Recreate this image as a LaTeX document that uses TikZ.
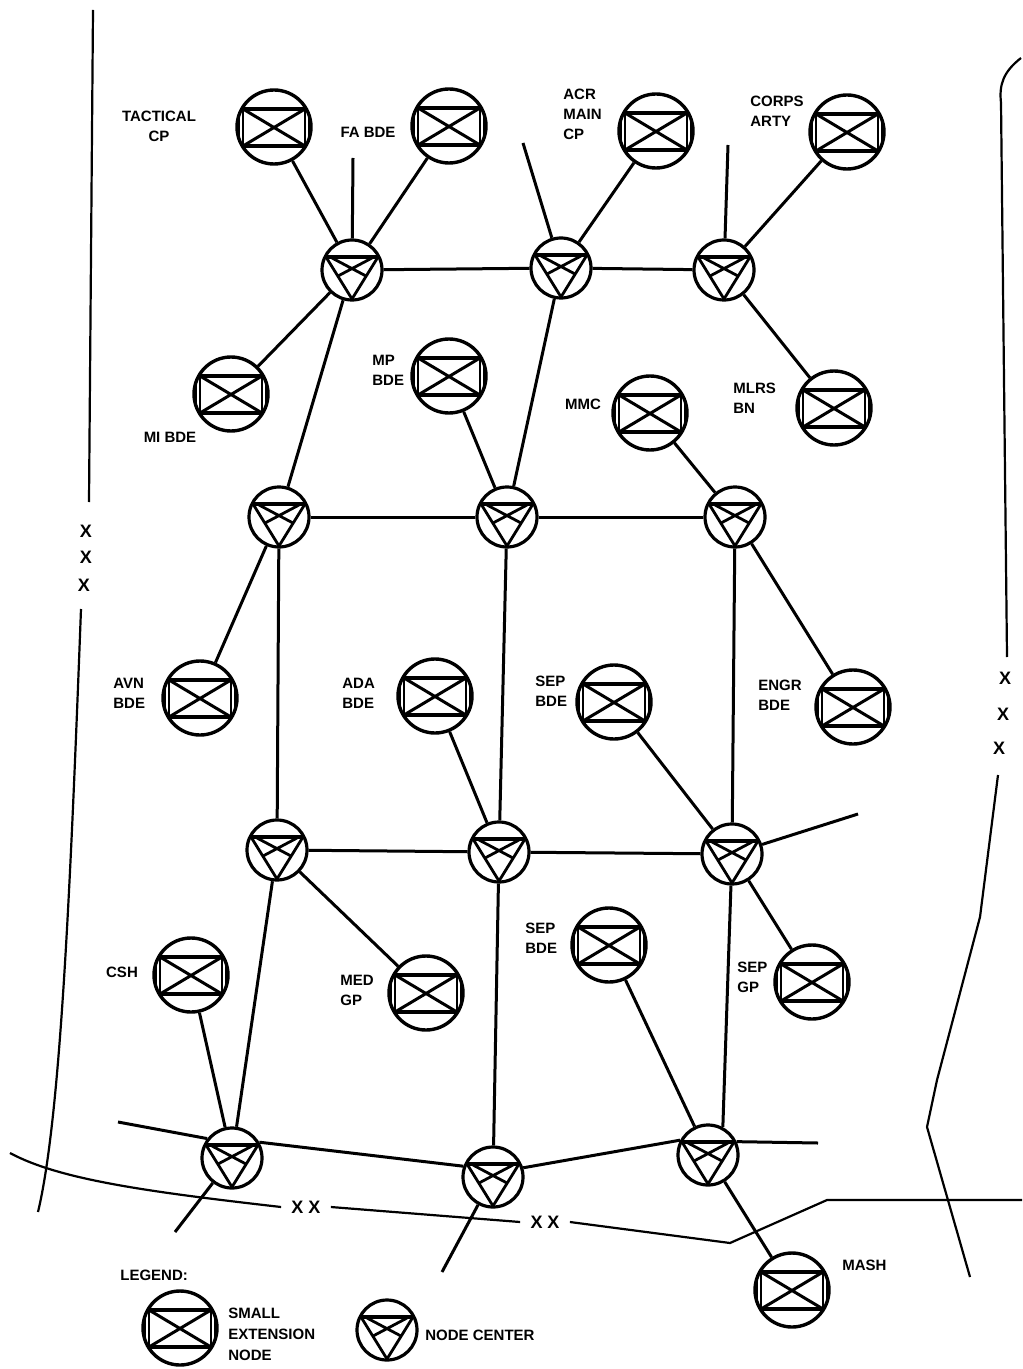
\documentclass[tikz,border=0pt]{standalone}
\usepackage{fontspec}
\newfontfamily\labfont{Liberation Sans}
\newcommand\lbl{\labfont\bfseries\fontsize{7.5}{10}\selectfont}
\newcommand\xmk{\labfont\bfseries\fontsize{9}{10}\selectfont}
\usetikzlibrary{calc}
\begin{document}
\begin{tikzpicture}[x=0.5pt,y=-0.5pt,
  sen/.style={circle,draw,line width=1.7pt,minimum size=37pt,inner sep=0pt,
    path picture={\begin{scope}[shift={(path picture bounding box.center)}]
      \draw[line width=1.7pt] (-34,-18) -- (34,-18) (-34,19) -- (34,19);
      \draw[line width=1.1pt] (-31,-18) -- (-31,19) (31,-18) -- (31,19);
      \draw[line width=1.5pt] (-31,-18) -- (31,19) (-31,19) -- (31,-18);
      \draw[line width=0.8pt] (-35,-9) -- (-35,9) (35,-9) -- (35,9);
    \end{scope}}},
  nc/.style={circle,draw,line width=1.6pt,minimum size=30pt,inner sep=0pt,
    path picture={\begin{scope}[shift={(path picture bounding box.center)}]
      \draw[line width=1.4pt,line join=round] (-26,-13) -- (26,-13) -- (0,29) -- cycle;
      \draw[line width=1.7pt] (-28,-13) -- (28,-13);
      \draw[line width=1.4pt] (-20,-12) -- (14,6) (20,-12) -- (-14,6);
    \end{scope}}},
  conn/.style={line width=1.5pt},
  bnd/.style={line width=1.1pt},
  lab/.style={font=\lbl,inner sep=0pt,align=left},
  labc/.style={font=\lbl,inner sep=0pt,align=center},
  xm/.style={font=\xmk,inner sep=0pt},
  xx/.style={font=\xmk,inner ysep=0pt,inner xsep=5pt}
]
\fill[white] (0,0) rectangle (1022,1369);
\useasboundingbox (0,0) rectangle (1022,1369);

% small extension nodes
\node[sen] (sTac) at (274,127) {};
\node[sen] (sFa) at (449,126) {};
\node[sen] (sAcr) at (656,131) {};
\node[sen] (sCorps) at (847,132) {};
\node[sen] (sMi) at (231,394) {};
\node[sen] (sMp) at (449,376) {};
\node[sen] (sMmc) at (650,413) {};
\node[sen] (sMlrs) at (834,408) {};
\node[sen] (sAvn) at (200,698) {};
\node[sen] (sAda) at (435,696) {};
\node[sen] (sSepA) at (614,702) {};
\node[sen] (sEngr) at (853,707) {};
\node[sen] (sCsh) at (191,975) {};
\node[sen] (sMed) at (426,993) {};
\node[sen] (sSepB) at (609,945) {};
\node[sen] (sSepGp) at (812,982) {};
\node[sen] (sMash) at (792,1290) {};
\node[sen] (lSen) at (180,1328) {};

% node centers
\node[nc] (n1) at (352,270) {};
\node[nc] (n2) at (561,268) {};
\node[nc] (n3) at (724,270) {};
\node[nc] (n4) at (279,517) {};
\node[nc] (n5) at (507,517) {};
\node[nc] (n6) at (735,517) {};
\node[nc] (n7) at (277,850) {};
\node[nc] (n8) at (499,852) {};
\node[nc] (n9) at (732,854) {};
\node[nc] (n10) at (232,1158) {};
\node[nc] (n11) at (493,1177) {};
\node[nc] (n12) at (708,1155) {};
\node[nc] (lNc) at (387,1330) {};

% labels
\node[labc] (tTac) at (159,126) {TACTICAL\\CP};
\node[labc] (tFa) at (368,132) {FA BDE};
\node[lab,anchor=west] (tAcr) at (563,114) {ACR\\MAIN\\CP};
\node[lab,anchor=west] (tCorps) at (750,111) {CORPS\\ARTY};
\node[labc] (tMi) at (170,437) {MI BDE};
\node[lab,anchor=west] (tMp) at (372,370) {MP\\BDE};
\node[labc] (tMmc) at (583,404) {MMC};
\node[lab,anchor=west] (tMlrs) at (733,398) {MLRS\\BN};
\node[lab,anchor=west] (tAvn) at (113,693) {AVN\\BDE};
\node[lab,anchor=west] (tAda) at (342,693) {ADA\\BDE};
\node[lab,anchor=west] (tSepA) at (535,691) {SEP\\BDE};
\node[lab,anchor=west] (tEngr) at (758,695) {ENGR\\BDE};
\node[labc] (tCsh) at (122,972) {CSH};
\node[lab,anchor=west] (tMed) at (340,990) {MED\\GP};
\node[lab,anchor=west] (tSepB) at (525,938) {SEP\\BDE};
\node[lab,anchor=west] (tSepGp) at (737,977) {SEP\\GP};
\node[lab,anchor=west] (tMash) at (842,1265) {MASH};
\node[lab,anchor=west] (tLeg) at (120,1275) {LEGEND:};
\node[lab,anchor=west,font=\labfont\bfseries\fontsize{7.5}{10.5}\selectfont] (tSen) at (228,1334) {SMALL\\EXTENSION\\NODE};
\node[lab,anchor=west] (tNc) at (425,1335) {NODE CENTER};

% connectors
\draw[conn] (sTac) -- (n1);
\draw[conn] (sFa) -- (n1);
\draw[conn] (n1) -- (n2);
\draw[conn] (n2) -- (n3);
\draw[conn] (sAcr) -- (n2);
\draw[conn] (sCorps) -- (n3);
\draw[conn] (n1) -- (sMi);
\draw[conn] (n1) -- (n4);
\draw[conn] (n2) -- (n5);
\draw[conn] (n3) -- (sMlrs);
\draw[conn] (sMp) -- (n5);
\draw[conn] (sMmc) -- (n6);
\draw[conn] (n4) -- (n5);
\draw[conn] (n5) -- (n6);
\draw[conn] (n4) -- (sAvn);
\draw[conn] (n4) -- (n7);
\draw[conn] (n5) -- (n8);
\draw[conn] (n6) -- (n9);
\draw[conn] (n6) -- (sEngr);
\draw[conn] (sAda) -- (n8);
\draw[conn] (sSepA) -- (n9);
\draw[conn] (n7) -- (n8);
\draw[conn] (n8) -- (n9);
\draw[conn] (n7) -- (sMed);
\draw[conn] (n7) -- (n10);
\draw[conn] (n9) -- (sSepGp);
\draw[conn] (n8) -- (n11);
\draw[conn] (n9) -- (n12.62);
\draw[conn] (sCsh) -- (n10);
\draw[conn] (sSepB) -- (n12);
\draw[conn] (n10.30) -- (n11.160);
\draw[conn] (n11.17) -- (n12.152);
\draw[conn] (n12) -- (sMash);

% stubs
\coordinate (e1) at (353,158);
\coordinate (e2) at (523,143);
\coordinate (e3) at (728,145);
\coordinate (e9) at (858,814);
\coordinate (e10) at (175,1232);
\coordinate (e11) at (442,1272);
\coordinate (e12) at (818,1143);
\coordinate (eB) at (118,1122);
\draw[conn] (n1) -- (e1);
\draw[conn] (n2) -- (e2);
\draw[conn] (n3) -- (e3);
\draw[conn] (n9) -- (e9);
\draw[conn] (n10) -- (e10);
\draw[conn] (n11) -- (e11);
\draw[conn] (n12.25) -- (e12);
\draw[conn] (eB) -- (n10.142);

% corps boundaries
\node[xm] (xL1) at (86,531) {X};
\node[xm] (xL2) at (86,557) {X};
\node[xm] (xL3) at (84,585) {X};
\draw[bnd] (93,10) -- (89,502);
\draw[bnd] (81,609) .. controls (70,900) and (60,1120) .. (38,1212);

\node[xm] (xR1) at (1005,678) {X};
\node[xm] (xR2) at (1003,714) {X};
\node[xm] (xR3) at (999,748) {X};
\draw[bnd] (1021,58) .. controls (1003,72) and (999,85) .. (1001,103) -- (1007,657);
\draw[bnd] (998,775) -- (980,917) -- (937,1080) -- (927,1127) -- (970,1277);

% division boundary
\node[xx] (xx1) at (306,1207) {X X};
\node[xx] (xx2) at (545,1222) {X X};
\draw[bnd] (10,1153) .. controls (60,1180) and (150,1192) .. (xx1.west);
\draw[bnd] (xx1.east) -- (xx2.west);
\draw[bnd] (xx2.east) -- (730,1243) -- (827,1200) -- (1022,1200);
\end{tikzpicture}
\end{document}
